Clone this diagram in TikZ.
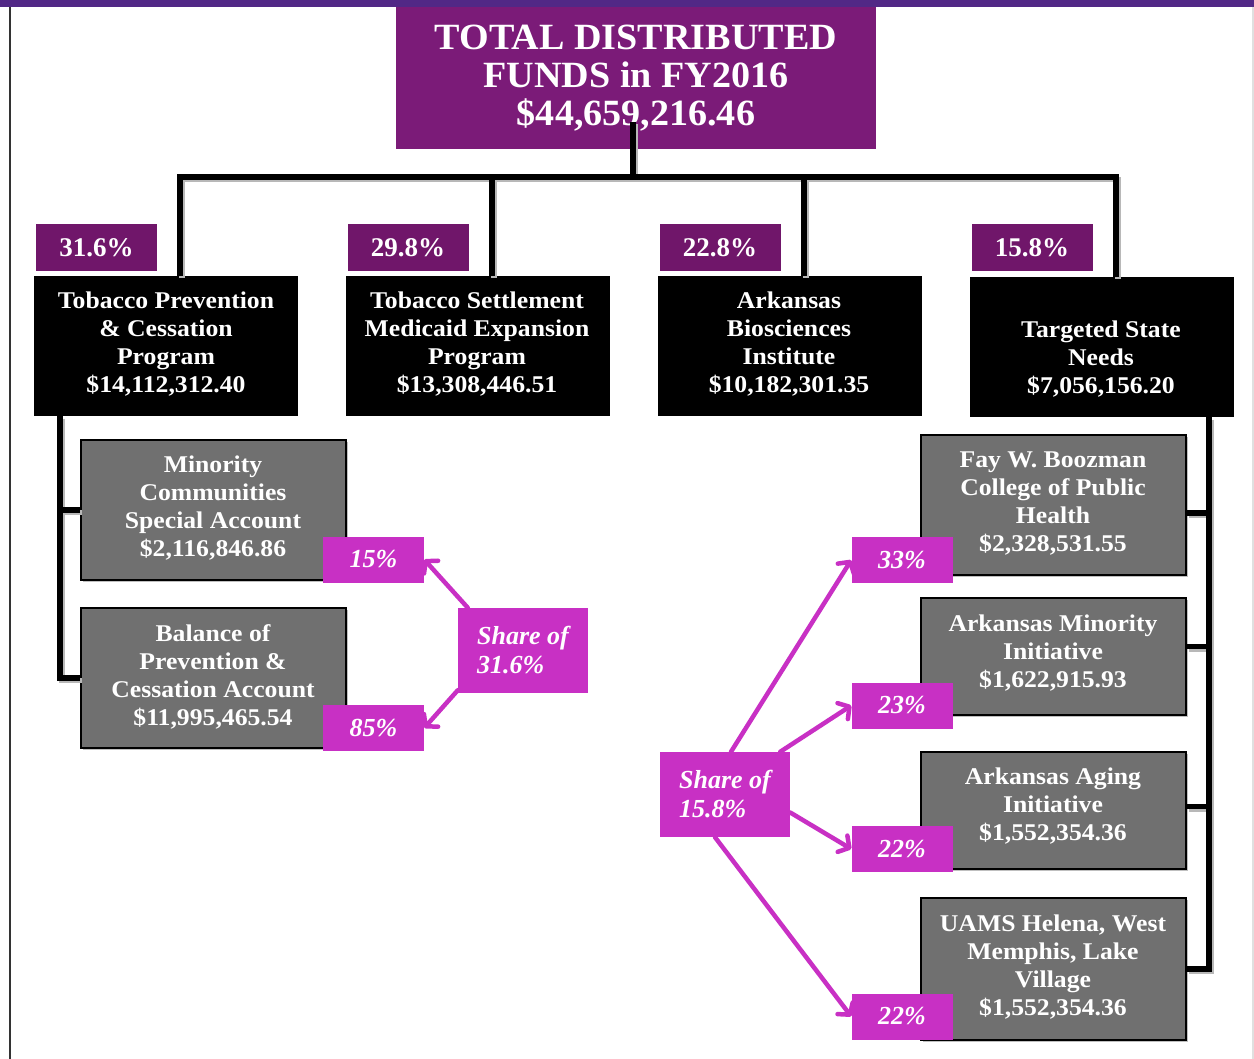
\documentclass[tikz,border=0pt]{standalone}
\usepackage{fontspec}
\setmainfont{Liberation Serif}[FakeStretch=1.07]
\newfontfamily\titlefont{Liberation Serif}[FakeStretch=1.03]
\newfontfamily\plainfont{Liberation Serif}
\usetikzlibrary{arrows.meta,shadows}
\definecolor{topbar}{RGB}{82,40,134}
\definecolor{titlepurple}{RGB}{123,27,120}
\definecolor{pctpurple}{RGB}{112,22,106}
\definecolor{magentab}{RGB}{200,48,196}
\definecolor{greybox}{RGB}{112,112,112}
\tikzset{
 txt/.style={text=white, align=center, inner sep=0pt, font=\fontsize{24}{28}\selectfont\bfseries},
 blackbox/.style={fill=black, draw=none, minimum width=264pt, minimum height=140pt, inner sep=0pt},
 greyb/.style={fill=greybox, draw=black, line width=1.5pt, minimum width=265pt, inner sep=0pt,
   drop shadow={shadow xshift=2pt, shadow yshift=-2pt, fill=black!25, opacity=1}},
 pctbox/.style={fill=pctpurple, text=white, minimum width=121pt, minimum height=47pt, inner sep=0pt,
   font=\plainfont\fontsize{27}{30}\selectfont\bfseries},
 magbox/.style={fill=magentab, text=white, inner sep=0pt, minimum width=101pt, minimum height=46pt,
   font=\plainfont\fontsize{26}{29}\selectfont\bfseries\itshape},
 sharebox/.style={magbox, minimum width=130pt, minimum height=85pt, align=left},
 marrow/.style={draw=magentab, line width=4.5pt, line cap=round,
   -{Straight Barb[length=8pt,width=19pt,round]}},
 tree/.style={draw=black, line width=5.5pt},
}
\newcommand{\TreeLines}{%
 \draw[tree] (tstem) -- (tstem |- hl);
 \draw[tree] (hl |- b1.north) -- (hl) -- (hr) -- (hr |- b4.north);
 \draw[tree] (h2) -- (h2 |- b2.north);
 \draw[tree] (h3) -- (h3 |- b3.north);
 \draw[tree] (b1.south -| lx) |- (g2.west);
 \draw[tree] (g1.west -| lx) -- (g1.west);
 \draw[tree] (b4.south -| rx) |- (g6.east);
 \draw[tree] ([yshift=-8pt]g3.east) -- ([yshift=-8pt]g3.east -| rx);
 \draw[tree] ([yshift=10pt]g4.east) -- ([yshift=10pt]g4.east -| rx);
 \draw[tree] ([yshift=4pt]g5.east) -- ([yshift=4pt]g5.east -| rx);
}
\begin{document}
\begin{tikzpicture}[x=1pt,y=-1pt]
\useasboundingbox (0,0) rectangle (1254,1059);
\fill[white] (0,0) rectangle (1254,1059);
\fill[topbar] (0,0) rectangle (1254,7);
\draw[black!80, line width=2pt] (9.5,7) -- (9.5,1059);
\draw[black!12, line width=2pt] (1253,7) -- (1253,1059);

% title
\node[fill=titlepurple, minimum width=480pt, minimum height=142pt, inner sep=0pt] (title) at (636,78) {};
\node[text=white, align=center, inner sep=0pt, font=\titlefont\fontsize{37}{38}\selectfont\bfseries] (titlet) at (636,78)
 {TOTAL DISTRIBUTED\\FUNDS in FY2016\\\$44,659,216.46};

% black boxes
\node[blackbox] (b1) at (166,346) {};
\node[blackbox] (b2) at (477.5,346) {};
\node[blackbox] (b3) at (790,346) {};
\node[blackbox] (b4) at (1102,347) {};
\node[txt] (b1t) at (166,344) {Tobacco Prevention\\\& Cessation\\Program\\\$14,112,312.40};
\node[txt] (b2t) at (477,344) {Tobacco Settlement\\Medicaid Expansion\\Program\\\$13,308,446.51};
\node[txt] (b3t) at (789,344) {Arkansas\\Biosciences\\Institute\\\$10,182,301.35};
\node[txt] (b4t) at (1101,359) {Targeted State\\Needs\\\$7,056,156.20};

% percent boxes
\node[pctbox] (p1) at (96.5,248) {31.6\%};
\node[pctbox] (p2) at (408,248) {29.8\%};
\node[pctbox] (p3) at (720,248) {22.8\%};
\node[pctbox] (p4) at (1032,248) {15.8\%};

% grey boxes
\node[greyb, minimum height=140pt] (g1) at (213.5,510) {};
\node[greyb, minimum height=140pt] (g2) at (213.5,678) {};
\node[greyb, minimum height=140pt] (g3) at (1053.5,505) {};
\node[greyb, minimum height=117pt] (g4) at (1053.5,656.5) {};
\node[greyb, minimum height=117pt] (g5) at (1053.5,810.5) {};
\node[greyb, minimum height=142pt] (g6) at (1053.5,969) {};
\node[txt] (g1t) at (213,508) {Minority\\Communities\\Special Account\\\$2,116,846.86};
\node[txt] (g2t) at (213,676.5) {Balance of\\Prevention \&\\Cessation Account\\\$11,995,465.54};
\node[txt] (g3t) at (1053,503.5) {Fay W. Boozman\\College of Public\\Health\\\$2,328,531.55};
\node[txt] (g4t) at (1053,653) {Arkansas Minority\\Initiative\\\$1,622,915.93};
\node[txt] (g5t) at (1053,806) {Arkansas Aging\\Initiative\\\$1,552,354.36};
\node[txt] (g6t) at (1053,967) {UAMS Helena, West\\Memphis, Lake\\Village\\\$1,552,354.36};

% tree connectors
\coordinate (tstem) at (633,122);
\coordinate (hl) at (180,177);
\coordinate (h2) at (492,177);
\coordinate (h3) at (804,177);
\coordinate (hr) at (1116,177);
\coordinate (lx) at (60,0);
\coordinate (rx) at (1209,0);
\begin{scope}[transform canvas={shift={(2pt,-2.5pt)}}, tree/.style={draw=black!28, line width=5.5pt}]
\TreeLines
\end{scope}
\TreeLines

% magenta boxes
\node[magbox] (m15) at (373.5,559.5) {15\%};
\node[magbox] (m85) at (373.5,728) {85\%};
\node[sharebox] (s31) at (523,650.5) {Share of\\31.6\%};
\node[magbox] (m33) at (902,560) {33\%};
\node[magbox] (m23) at (902,705.5) {23\%};
\node[magbox] (m22a) at (902,849) {22\%};
\node[magbox] (m22b) at (902,1016.5) {22\%};
\node[sharebox] (s158) at (725,794.5) {Share of\\15.8\%};

% magenta arrows
\draw[marrow] ([xshift=10pt]s31.north west) -- (m15.east);
\draw[marrow] ([yshift=3pt]s31.south west) -- (m85.east);
\draw[marrow] ([xshift=6pt]s158.north) -- (m33.west);
\draw[marrow] ([xshift=-10pt]s158.north east) -- (m23.west);
\draw[marrow] ([yshift=-18pt]s158.east) -- (m22a.west);
\draw[marrow] ([xshift=-10pt]s158.south) -- (m22b.west);
\end{tikzpicture}
\end{document}
